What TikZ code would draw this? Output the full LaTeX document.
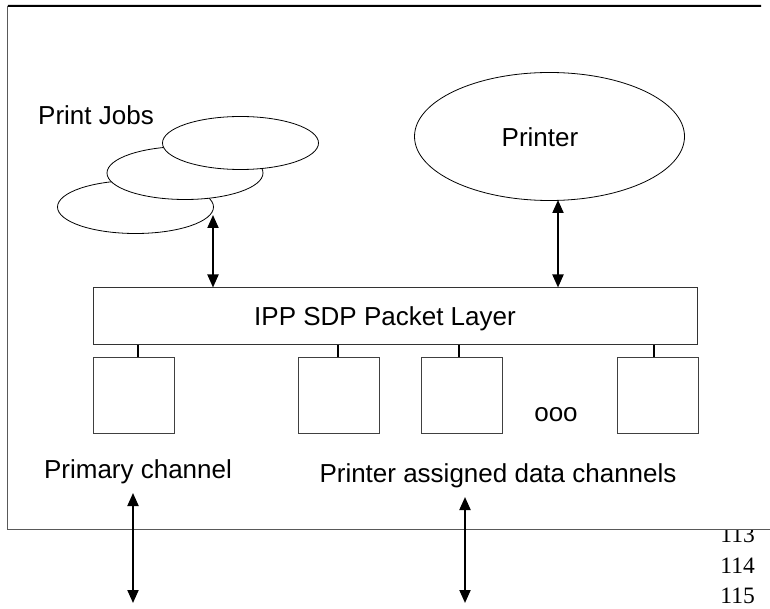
\documentclass[tikz,border=0pt]{standalone}
\usepackage{fontspec}
\setmainfont{Liberation Sans}
\newfontfamily\numfont{Liberation Serif}
\usetikzlibrary{shapes.geometric,arrows.meta}
\begin{document}
\begin{tikzpicture}[x=1pt,y=-1pt,
  lbl/.style={font=\fontsize{26}{30}\selectfont, inner sep=0pt, anchor=base},
  num/.style={font=\numfont\fontsize{23.5}{28}\selectfont, inner sep=0pt, anchor=base east},
  frm/.style={fill=white, inner sep=0pt},
  topline/.style={draw=black, line width=2pt},
  sideline/.style={draw=black!65, line width=1pt},
  job/.style={draw, ellipse, fill=white, minimum width=156pt, minimum height=53pt, inner sep=0pt, line width=0.8pt},
  bigell/.style={draw, ellipse, fill=white, minimum width=270pt, minimum height=128pt, inner sep=0pt, line width=0.8pt},
  layerbox/.style={draw=black!80, line width=1pt, minimum width=604pt, minimum height=56pt, inner sep=0pt},
  chan/.style={draw=black!75, line width=1pt, minimum width=81pt, minimum height=76pt, inner sep=0pt},
  tick/.style={line width=2pt},
  dbl/.style={{Triangle[length=13pt,width=11pt]}-{Triangle[length=13pt,width=11pt]}, line width=2pt}
]
\useasboundingbox (0,0) rectangle (770,609);
% line numbers (113 partly hidden by the frame)
\node[num] (n113) at (755,542) {113};
\node[num] (n114) at (755,573) {114};
\node[num] (n115) at (755,603) {115};
% frame: white area with top, left and bottom edges
\node[frm, minimum width=762pt, minimum height=523pt] (frame) at (389,267.5) {};
\coordinate (ftr) at (761,6);
\draw[topline] (frame.north west) -- (ftr);
\draw[sideline] (frame.north west) -- (frame.south west) -- (frame.south east);
% print jobs
\node[lbl] (pjl) at (96,125) {Print Jobs};
\node[job] (job1) at (135.5,207) {};
\node[job] (job2) at (185,173) {};
\node[job] (job3) at (240.5,143) {};
% printer
\node[bigell] (printer) at (549.5,136.5) {};
\node[lbl] (prl) at (540,147) {Printer};
% layer
\node[layerbox] (layer) at (395,316) {};
\node[lbl] (layl) at (385,325) {IPP SDP Packet Layer};
% channel boxes
\node[chan] (c1) at (133.5,395) {};
\node[chan] (c2) at (339,395) {};
\node[chan] (c3) at (461.5,395) {};
\node[chan] (c4) at (658,395) {};
\draw[tick] (138,0 |- c1.north) -- (138,0 |- layer.south);
\draw[tick] (338,0 |- c2.north) -- (338,0 |- layer.south);
\draw[tick] (459,0 |- c3.north) -- (459,0 |- layer.south);
\draw[tick] (654,0 |- c4.north) -- (654,0 |- layer.south);
\node[lbl] (dots) at (556,421) {ooo};
\node[lbl] (prim) at (138,478) {Primary channel};
\node[lbl] (assg) at (498,482) {Printer assigned data channels};
% arrows
\coordinate (jt) at (213,215);
\draw[dbl] (jt) -- (jt |- layer.north);
\coordinate (pt) at (558,200);
\draw[dbl] (pt) -- (pt |- layer.north);
\coordinate (a1t) at (133,493);
\coordinate (a1b) at (133,603);
\draw[dbl] (a1t) -- (a1b);
\coordinate (a2t) at (465,497);
\coordinate (a2b) at (465,603);
\draw[dbl] (a2t) -- (a2b);
\end{tikzpicture}
\end{document}
